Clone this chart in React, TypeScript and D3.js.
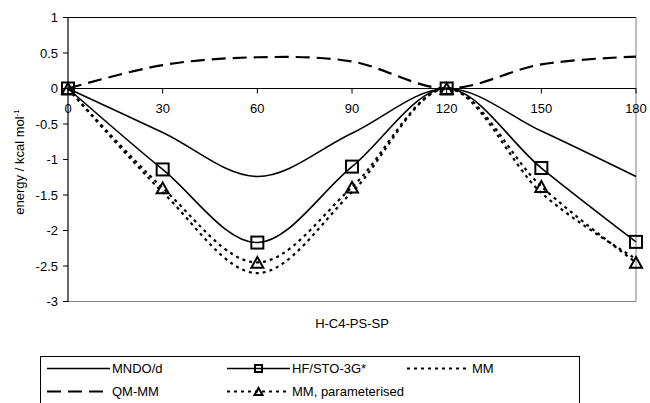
import React from 'react';
import * as d3 from 'd3';

const angles = [0, 30, 60, 90, 120, 150, 180];
const mndoD = [0, -0.62, -1.24, -0.63, 0, -0.6, -1.24];
const hfSto3g = [0, -1.14, -2.17, -1.1, 0, -1.12, -2.16];
const mm = [0, -1.46, -2.6, -1.46, 0, -1.47, -2.4];
const qmMm = [0, 0.33, 0.44, 0.38, 0, 0.34, 0.45];
const mmParam = [0, -1.4, -2.45, -1.39, 0, -1.38, -2.45];

const xTicks = [0, 30, 60, 90, 120, 150, 180];
const yTicks = [1, 0.5, 0, -0.5, -1, -1.5, -2, -2.5, -3];

const FONT = '"Liberation Sans", Arial, sans-serif';

export default function App() {
  const x = d3.scaleLinear().domain([0, 180]).range([68, 636]);
  const y = d3.scaleLinear().domain([-3, 1]).range([301.5, 17.5]);
  const mkLine = (vals: number[]) =>
    d3
      .line<number>()
      .x((_, i) => x(angles[i]))
      .y((d) => y(d))
      .curve(d3.curveCardinal.tension(0))(vals) || '';

  const square = (cx: number, cy: number, s: number, key: string) => (
    <rect key={key} x={cx - s / 2} y={cy - s / 2} width={s} height={s} fill="none" stroke="#000" strokeWidth={2} />
  );
  const triangle = (cx: number, cy: number, s: number, key: string) => {
    const h = s * 0.9;
    const p = `M${cx},${cy - h / 2}L${cx + s / 2},${cy + h / 2}L${cx - s / 2},${cy + h / 2}Z`;
    return <path key={key} d={p} fill="none" stroke="#000" strokeWidth={2} strokeLinejoin="miter" />;
  };

  const fmt = (v: number) => String(v);

  const series = [
    { name: 'MNDO/d', vals: mndoD, dash: undefined, w: 1.6, marker: 'none' },
    { name: 'HF/STO-3G*', vals: hfSto3g, dash: undefined, w: 1.6, marker: 'square' },
    { name: 'MM', vals: mm, dash: '3 4', w: 2.2, marker: 'none' },
    { name: 'QM-MM', vals: qmMm, dash: '14 7', w: 2.2, marker: 'none' },
    { name: 'MM, parameterised', vals: mmParam, dash: '3 4', w: 2.2, marker: 'triangle' },
  ];

  const legendCols = [47, 227, 407];
  const legendRows = [368.5, 391.5];
  const sampleLen = 63;

  return (
    <svg
      width={650}
      height={403}
      style={{ position: 'absolute', left: 0, top: 0, background: '#fff' }}
      fontFamily={FONT}
    >
      <rect x={0} y={0} width={650} height={403} fill="#fff" />
      {/* plot frame */}
      <line x1={68} x2={636} y1={17.5} y2={17.5} stroke="#000" strokeWidth={1} />
      <line x1={636} x2={636} y1={17.5} y2={301.5} stroke="#808080" strokeWidth={1} />
      <line x1={68} x2={636} y1={301.5} y2={301.5} stroke="#808080" strokeWidth={1.2} />
      {/* y axis */}
      <line x1={68} x2={68} y1={17.5} y2={301.5} stroke="#000" strokeWidth={1.2} />
      {yTicks.map((t) => (
        <g key={'yt' + t}>
          <line x1={63} x2={68} y1={y(t)} y2={y(t)} stroke="#000" strokeWidth={1} />
          <text x={58} y={y(t)} dy="0.35em" textAnchor="end" fontSize={13} fill="#000">
            {fmt(t)}
          </text>
        </g>
      ))}
      {/* x axis at zero */}
      <line x1={68} x2={636} y1={y(0)} y2={y(0)} stroke="#000" strokeWidth={1.2} />
      {xTicks.map((t) => (
        <g key={'xt' + t}>
          <line x1={x(t)} x2={x(t)} y1={y(0)} y2={y(0) + 5} stroke="#000" strokeWidth={1} />
          <text x={x(t)} y={113} textAnchor="middle" fontSize={13} fill="#000">
            {t}
          </text>
        </g>
      ))}
      {/* series */}
      {series.map((s) => (
        <path
          key={s.name}
          d={mkLine(s.vals)}
          fill="none"
          stroke="#000"
          strokeWidth={s.w}
          strokeDasharray={s.dash}
        />
      ))}
      {hfSto3g.map((v, i) => square(x(angles[i]), y(v), 12, 'sq' + i))}
      {mmParam.map((v, i) => triangle(x(angles[i]), y(v), 12, 'tr' + i))}
      {/* axis titles */}
      <text x={352} y={328} textAnchor="middle" fontSize={13} fill="#000">
        H-C4-PS-SP
      </text>
      <text transform="translate(24,162) rotate(-90)" textAnchor="middle" fontSize={13} fill="#000">
        energy / kcal mol<tspan dy={-5} fontSize={8}>-1</tspan>
      </text>
      {/* legend */}
      <rect x={40.5} y={356.5} width={539} height={60} fill="#fff" stroke="#000" strokeWidth={1} />
      {series.map((s, i) => {
        const col = i % 3;
        const row = Math.floor(i / 3);
        const x0 = legendCols[col];
        const ly = legendRows[row];
        const cx = x0 + sampleLen / 2;
        return (
          <g key={'lg' + i}>
            <line
              x1={x0}
              x2={x0 + sampleLen}
              y1={ly}
              y2={ly}
              stroke="#000"
              strokeWidth={s.w}
              strokeDasharray={s.dash}
            />
            {s.marker === 'square' && (
              <rect x={cx - 3.5} y={ly - 3.5} width={7} height={7} fill="none" stroke="#000" strokeWidth={2} />
            )}
            {s.marker === 'triangle' &&
              (
                <path
                  d={`M${cx},${ly - 3.5}L${cx + 4},${ly + 3.5}L${cx - 4},${ly + 3.5}Z`}
                  fill="none"
                  stroke="#000"
                  strokeWidth={2}
                />
              )}
            <text x={x0 + sampleLen + 2} y={ly} dy="0.35em" fontSize={13} fill="#000">
              {s.name}
            </text>
          </g>
        );
      })}
    </svg>
  );
}
